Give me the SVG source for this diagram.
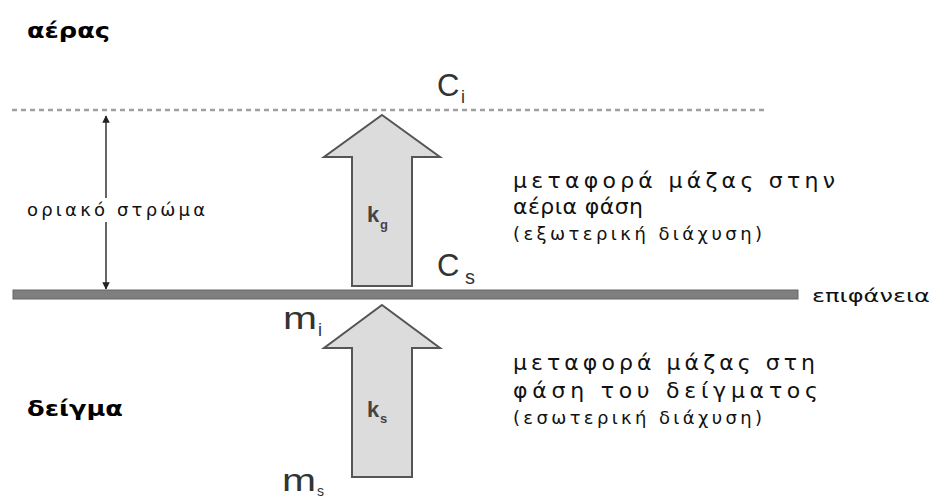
<svg xmlns="http://www.w3.org/2000/svg" width="934" height="499" viewBox="0 0 934 499">
<style>
.t{font-family:"DejaVu Sans","Liberation Sans",sans-serif;fill:#111}
.b{font-family:"DejaVu Sans","Liberation Sans",sans-serif;font-weight:bold;fill:#000}
.big{font-family:"Liberation Sans",Arial,sans-serif;fill:#333}
.k{font-family:"Liberation Sans",Arial,sans-serif;font-weight:bold;fill:#444}
.blk{fill:#dcdcdc;stroke:#555;stroke-width:2;stroke-linejoin:miter}
</style>
<defs>
<marker id="ah" viewBox="0 0 10 10" refX="9" refY="5" markerWidth="5" markerHeight="5" orient="auto-start-reverse">
<path d="M0,0 L10,5 L0,10 Z" fill="#222"/>
</marker>
</defs>
<rect width="934" height="499" fill="#fff"/>
<g id="labels-regions">
<text class="b" x="27" y="38" font-size="22" textLength="83" lengthAdjust="spacingAndGlyphs">αέρας</text>
<text class="b" x="27" y="416" font-size="22" textLength="96" lengthAdjust="spacingAndGlyphs">δείγμα</text>
</g>
<g id="connectors">
<line x1="12" y1="110" x2="765" y2="110" stroke="#a0a0a0" stroke-width="2.5" stroke-dasharray="5 4"/>
<line x1="106" y1="116" x2="106" y2="289" stroke="#333" stroke-width="1.5" marker-start="url(#ah)" marker-end="url(#ah)"/>
</g>
<g id="surface">
<rect x="13" y="290" width="785" height="9" fill="#7f7f7f" stroke="#666" stroke-width="1"/>
<text class="t" x="812" y="302" font-size="17" textLength="118" lengthAdjust="spacingAndGlyphs">επιφάνεια</text>
</g>
<g id="boundary-layer">
<rect x="25" y="198" width="184" height="24" fill="#fff"/>
<text class="t" x="27" y="216" font-size="18" textLength="178" lengthAdjust="spacing">οριακό στρώμα</text>
</g>
<g id="arrow-kg">
<path class="blk" d="M382,115 L440,157 L412,157 L412,286 L352,286 L352,157 L324,157 Z"/>
<text class="k" x="367" y="222" font-size="22">k</text>
<text class="k" x="380" y="229" font-size="13">g</text>
</g>
<g id="arrow-ks">
<path class="blk" d="M382,305 L440,348 L412,348 L412,477 L352,477 L352,348 L324,348 Z"/>
<text class="k" x="367" y="417" font-size="22">k</text>
<text class="k" x="380" y="423" font-size="13">s</text>
</g>
<g id="conc-labels">
<text class="big" x="437" y="96" font-size="31">C</text>
<text class="big" x="461" y="103" font-size="18">i</text>
<text class="big" x="437" y="276" font-size="31">C</text>
<text class="big" x="465" y="284" font-size="20">s</text>
<text class="big" x="283" y="329" font-size="32" textLength="34" lengthAdjust="spacingAndGlyphs">m</text>
<text class="big" x="318" y="336" font-size="18">i</text>
<text class="big" x="282" y="491" font-size="32" textLength="34" lengthAdjust="spacingAndGlyphs">m</text>
<text class="big" x="317" y="496" font-size="14">s</text>
</g>
<g id="gas-phase-text">
<text class="t" x="513" y="188" font-size="22" textLength="322" lengthAdjust="spacing">μεταφορά μάζας στην</text>
<text class="t" x="513" y="214" font-size="22" textLength="130" lengthAdjust="spacing">αέρια φάση</text>
<text class="t" x="513" y="240" font-size="18" textLength="249" lengthAdjust="spacing">(εξωτερική διάχυση)</text>
</g>
<g id="sample-phase-text">
<text class="t" x="513" y="370" font-size="22" textLength="302" lengthAdjust="spacing">μεταφορά μάζας στη</text>
<text class="t" x="513" y="398" font-size="22" textLength="305" lengthAdjust="spacing">φάση του δείγματος</text>
<text class="t" x="513" y="424" font-size="18" textLength="249" lengthAdjust="spacing">(εσωτερική διάχυση)</text>
</g>
</svg>
